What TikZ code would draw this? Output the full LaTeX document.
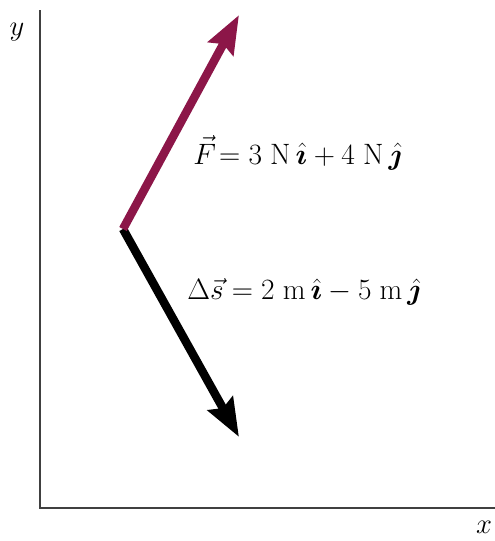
\documentclass[tikz,border=0pt]{standalone}
\usepackage{amsmath,bm}
\usetikzlibrary{arrows.meta}
\definecolor{maroon}{RGB}{140,22,72}
\tikzset{
  axis/.style={line width=1.6pt, draw=black!75},
  vecarrow/.style={line width=8.5pt, -{Stealth[length=38pt,width=28pt,inset=5pt]}},
  lbl/.style={font=\fontsize{20.74}{24}\selectfont, scale=1.42, transform shape, inner sep=0pt, anchor=west},
  axlbl/.style={font=\fontsize{24.88}{28}\selectfont, scale=1.15, transform shape, inner sep=0pt}
}
\begin{document}
\begin{tikzpicture}[x=1pt,y=-1pt]
\useasboundingbox (0,0) rectangle (495,541);
\coordinate (ytop) at (40,10);
\coordinate (orig) at (40,508);
\coordinate (xend) at (495,508);
\draw[axis] (ytop) -- (orig) -- (xend);
\node[axlbl] (ylab) at (17,32) {$y$};
\node[axlbl] (xlab) at (484,527) {$x$};
\coordinate (O) at (123,229);
\coordinate (Ftip) at (239,15);
\coordinate (Stip) at (239,437);
\draw[vecarrow, black] (O) -- (Stip);
\draw[vecarrow, maroon] (O) -- (Ftip);
\node[lbl] (Flab) at (193,153) {$\vec{F}\! = 3\;\mathrm{N}\,\hat{\bm{\imath}} + 4\;\mathrm{N}\,\hat{\bm{\jmath}}$};
\node[lbl] (Slab) at (187,292) {$\Delta\vec{s} = 2\;\mathrm{m}\,\hat{\bm{\imath}} - 5\;\mathrm{m}\,\hat{\bm{\jmath}}$};
\end{tikzpicture}
\end{document}
